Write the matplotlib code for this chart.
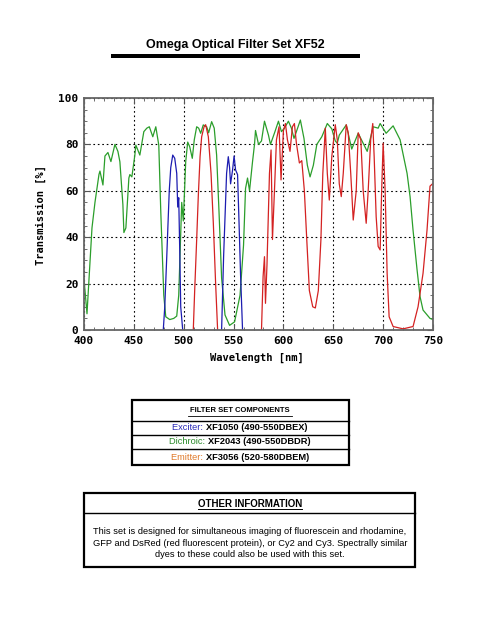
import matplotlib
matplotlib.use("Agg")
import matplotlib.pyplot as plt
from matplotlib.patches import Rectangle
from matplotlib.lines import Line2D
from matplotlib.ticker import MultipleLocator

# dichroic (green)
green_wl = [400, 403, 408, 411, 415, 416, 419, 421, 424, 427, 431, 434, 436, 439, 440, 442,
            445, 446, 448, 451, 452, 456, 460, 463, 465.5, 469, 472, 475, 477, 480, 482, 486,
            490, 493, 495, 496.5, 498, 499.6, 502, 504, 506, 508.6, 510.6, 513, 515, 517,
            519.6, 523, 525, 528, 530.6, 533, 535.4, 538, 541.4, 546, 551, 556.5, 560, 562,
            564, 566, 569, 571, 572, 575, 578, 581, 585, 587, 591.5, 595, 598, 601, 605, 608,
            610.6, 613, 617, 620.6, 624, 626.7, 630, 633.5, 638.5, 644, 648.5, 652, 654, 656,
            663, 668.5, 675, 684, 690, 695, 697, 703, 710, 717, 724, 727, 730, 734, 737, 740,
            747, 750]
green_t = [22, 7, 44, 55, 67, 68.5, 62.5, 75, 76.5, 72.6, 80, 77, 72.5, 54, 42, 44,
           65.5, 67, 66, 75.4, 79.7, 75.4, 85.5, 87, 87.6, 83.3, 87.6, 79.7, 51, 15, 5.7, 4.5,
           5, 6, 15, 35, 55, 47, 72.5, 81, 79, 74, 82, 87.6, 87, 84.8,
           88.4, 87.6, 85, 89.8, 87, 75.4, 51, 22.4, 6.5, 2, 3.5, 15, 36.6, 61,
           65.5, 60, 72.5, 80, 86, 80, 81.5, 90, 84, 80, 85.5, 90, 85.5, 87, 90, 87,
           82.6, 85.5, 90.5, 82.6, 71, 66, 71, 80, 83.3, 89, 86.7, 81.5, 80.5, 84,
           88.4, 78, 84.8, 77, 87.6, 87, 89, 84.8, 88, 82, 67.5, 57.5, 43, 26, 14.4, 8.6,
           5, 4.5]

# exciter (blue), two bands
blue1_wl = [479.5, 481, 483, 485.5, 487, 489, 491, 493, 494, 495, 496, 497, 499]
blue1_t = [0, 10, 31.6, 60, 70, 75.4, 74, 67.5, 53, 57, 34.5, 10, 0]
blue2_wl = [538, 540, 543, 544.7, 546, 547, 549, 550.5, 552, 554, 555.5, 557, 559]
blue2_t = [0, 31.6, 67.5, 74.7, 70, 63, 69, 75, 69, 67, 46, 24, 0]

# emitter (red), two bands
red1_wl = [509.6, 511, 513, 514.6, 516.4, 518, 520.4, 522, 524.7, 527.4, 529.7, 532, 534]
red1_t = [0, 17, 39, 57.5, 74.7, 83.3, 87.6, 88.5, 83.3, 67.5, 46, 20, 0]
red2_wl = [578, 579.6, 581, 582, 583.5, 586, 587.6, 589, 591, 593, 595.6, 597.6, 600, 602,
           604, 606.6, 609, 611, 613, 616, 618.4, 621, 623.4, 626, 629.4, 632, 635, 637.6,
           639.5, 642, 644, 646, 648.5, 652, 654, 656, 658, 660, 663, 665, 667.5, 670, 673,
           675, 677.6, 680, 683, 685, 687.5, 689.6, 691, 693, 695, 697, 698.5, 700, 702,
           704, 706, 710, 720, 730, 735, 740, 744, 747, 749.5]
red2_t = [0, 23, 31.6, 11.5, 28, 67.5, 77.6, 39, 60, 82, 87.6, 64.7, 86, 89,
          82, 77, 87.6, 89, 80.5, 72, 73, 60, 39, 17, 10, 9.5, 17, 39,
          67.5, 87, 67.5, 56, 74.7, 88.5, 82, 63, 57.5, 67.5, 88.5, 85, 67.5, 47.4, 60,
          85, 82, 60, 46, 60, 82, 89, 74.7, 48.8, 36, 34.5, 60, 80.5, 60,
          24.4, 5.7, 1.5, 0.5, 1.5, 10, 24.4, 43, 62, 63]

xticks = [400, 450, 500, 550, 600, 650, 700, 750]
yticks = [0, 20, 40, 60, 80, 100]

W, H = 495, 640
fig = plt.figure(figsize=(W / 100, H / 100), dpi=100)
fig.patch.set_facecolor("white")


def fx(x):
    return x / W


def fy(y):
    return 1 - y / H


ax = fig.add_axes([fx(84), fy(330), fx(433) - fx(84), fy(98) - fy(330)])
ax.plot(green_wl, green_t, color="#2b9e2b", lw=0.9)
ax.plot(blue1_wl, blue1_t, color="#1c1cb0", lw=0.9)
ax.plot(blue2_wl, blue2_t, color="#1c1cb0", lw=0.9)
ax.plot(red1_wl, red1_t, color="#d42222", lw=0.9)
ax.plot(red2_wl, red2_t, color="#d42222", lw=0.9)

ax.set_xlim(400, 750)
ax.set_ylim(0, 100)
ax.set_xticks(xticks)
ax.set_yticks(yticks)
ax.xaxis.set_minor_locator(MultipleLocator(10))
ax.yaxis.set_minor_locator(MultipleLocator(5))
ax.grid(True, which="major", color="black", ls=(0, (1.5, 2.5)), lw=0.8)
ax.tick_params(which="both", direction="in", top=True, right=True, color="#555555")
ax.tick_params(which="major", length=4, labelsize=8, pad=4)
ax.tick_params(which="minor", length=2)
for lab in ax.get_xticklabels() + ax.get_yticklabels():
    lab.set_family("DejaVu Sans Mono")
    lab.set_fontweight("bold")
for sp in ax.spines.values():
    sp.set_color("#666666")
    sp.set_linewidth(1.3)

fig.text(fx(41), fy(215), "Transmission [%]", rotation=90, ha="center", va="center",
         family="DejaVu Sans Mono", fontweight="bold", fontsize=7.5)
fig.text(fx(257), fy(358), "Wavelength [nm]", ha="center", va="center",
         family="DejaVu Sans Mono", fontweight="bold", fontsize=7.5)

# title and bar
fig.text(fx(235), fy(45), "Omega Optical Filter Set XF52", ha="center", va="center",
         family="Liberation Sans", fontweight="bold", fontsize=9)
fig.add_artist(Rectangle((fx(111), fy(58)), fx(360) - fx(111), fy(54) - fy(58),
                         transform=fig.transFigure, color="black", lw=0))


def hline(x0, x1, y, lw=1.0):
    fig.add_artist(Line2D([fx(x0), fx(x1)], [fy(y), fy(y)], transform=fig.transFigure,
                          color="black", lw=lw))


def box(x0, x1, y0, y1):
    fig.add_artist(Rectangle((fx(x0), fy(y1)), fx(x1) - fx(x0), fy(y0) - fy(y1),
                             transform=fig.transFigure, fill=False, ec="black", lw=1.6))


# components table
box(132, 349, 400, 465)
hline(132, 349, 421)
hline(132, 349, 435)
hline(132, 349, 449)
fig.text(fx(240), fy(411), "FILTER SET COMPONENTS", ha="center", va="center",
         family="Liberation Sans", fontweight="bold", fontsize=5.5)
hline(188, 292, 415.5, lw=0.6)

rows = [("Exciter: ", "XF1050 (490-550DBEX)", "#2a2ab8", 428),
        ("Dichroic: ", "XF2043 (490-550DBDR)", "#2a8a2a", 442),
        ("Emitter: ", "XF3056 (520-580DBEM)", "#e07a2a", 457)]
renderer = fig.canvas.get_renderer()
for name, part, col, y in rows:
    t1 = fig.text(0, fy(y), name, va="center", family="Liberation Sans",
                  fontsize=6.7, color=col)
    t2 = fig.text(0, fy(y), part, va="center", family="Liberation Sans",
                  fontsize=6.7, fontweight="bold", color="black")
    w1 = t1.get_window_extent(renderer).width / fig.bbox.width
    w2 = t2.get_window_extent(renderer).width / fig.bbox.width
    start = fx(240) - (w1 + w2) / 2
    t1.set_x(start)
    t2.set_x(start + w1)

# other information box
box(84, 415, 493, 567)
hline(84, 415, 513)
fig.text(fx(250), fy(504), "OTHER INFORMATION", ha="center", va="center",
         family="Liberation Sans", fontweight="bold", fontsize=7)
hline(198, 302, 509, lw=0.7)
info = ("This set is designed for simultaneous imaging of fluorescein and rhodamine,\n"
        "GFP and DsRed (red fluorescent protein), or Cy2 and Cy3. Spectrally similar\n"
        "dyes to these could also be used with this set.")
fig.text(fx(250), fy(543), info, ha="center", va="center", family="Liberation Sans",
         fontsize=6.7, linespacing=1.3)

fig.savefig("out.png", dpi=100)
